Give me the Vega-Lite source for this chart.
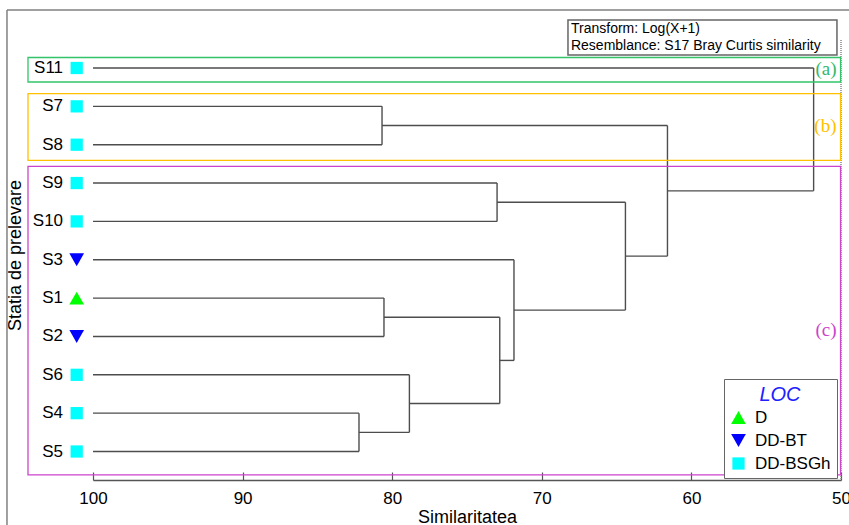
{
  "$schema": "https://vega.github.io/schema/vega-lite/v6.json",
  "width": 748,
  "height": 480,
  "autosize": {"type": "none"},
  "padding": {"left": 93, "top": 0, "right": 8, "bottom": 45},
  "background": "white",
  "config": {"view": {"stroke": null}, "font": "Liberation Sans"},
  "datasets": {
    "segs": [
      {"x": 100, "x2": 51.83, "y": 0, "y2": 0},
      {"x": 100, "x2": 80.68, "y": 1, "y2": 1},
      {"x": 100, "x2": 80.68, "y": 2, "y2": 2},
      {"x": 100, "x2": 72.99, "y": 3, "y2": 3},
      {"x": 100, "x2": 72.99, "y": 4, "y2": 4},
      {"x": 100, "x2": 71.86, "y": 5, "y2": 5},
      {"x": 100, "x2": 80.55, "y": 6, "y2": 6},
      {"x": 100, "x2": 80.55, "y": 7, "y2": 7},
      {"x": 100, "x2": 78.85, "y": 8, "y2": 8},
      {"x": 100, "x2": 82.22, "y": 9, "y2": 9},
      {"x": 100, "x2": 82.22, "y": 10, "y2": 10},
      {"x": 80.68, "x2": 61.6, "y": 1.5, "y2": 1.5},
      {"x": 72.99, "x2": 64.41, "y": 3.5, "y2": 3.5},
      {"x": 80.55, "x2": 72.81, "y": 6.5, "y2": 6.5},
      {"x": 82.22, "x2": 78.85, "y": 9.5, "y2": 9.5},
      {"x": 78.85, "x2": 72.81, "y": 8.75, "y2": 8.75},
      {"x": 72.81, "x2": 71.86, "y": 7.625, "y2": 7.625},
      {"x": 71.86, "x2": 64.41, "y": 6.3125, "y2": 6.3125},
      {"x": 64.41, "x2": 61.6, "y": 4.906, "y2": 4.906},
      {"x": 61.6, "x2": 51.83, "y": 3.203, "y2": 3.203},
      {"x": 80.68, "x2": 80.68, "y": 1, "y2": 2},
      {"x": 72.99, "x2": 72.99, "y": 3, "y2": 4},
      {"x": 80.55, "x2": 80.55, "y": 6, "y2": 7},
      {"x": 82.22, "x2": 82.22, "y": 9, "y2": 10},
      {"x": 78.85, "x2": 78.85, "y": 8, "y2": 9.5},
      {"x": 72.81, "x2": 72.81, "y": 6.5, "y2": 8.75},
      {"x": 71.86, "x2": 71.86, "y": 5, "y2": 7.625},
      {"x": 64.41, "x2": 64.41, "y": 3.5, "y2": 6.3125},
      {"x": 61.6, "x2": 61.6, "y": 1.5, "y2": 4.906},
      {"x": 51.83, "x2": 51.83, "y": 0, "y2": 3.203}
    ],
    "leaves": [
      {"name": "S11", "pos": 0, "LOC": "DD-BSGh"},
      {"name": "S7", "pos": 1, "LOC": "DD-BSGh"},
      {"name": "S8", "pos": 2, "LOC": "DD-BSGh"},
      {"name": "S9", "pos": 3, "LOC": "DD-BSGh"},
      {"name": "S10", "pos": 4, "LOC": "DD-BSGh"},
      {"name": "S3", "pos": 5, "LOC": "DD-BT"},
      {"name": "S1", "pos": 6, "LOC": "D"},
      {"name": "S2", "pos": 7, "LOC": "DD-BT"},
      {"name": "S6", "pos": 8, "LOC": "DD-BSGh"},
      {"name": "S4", "pos": 9, "LOC": "DD-BSGh"},
      {"name": "S5", "pos": 10, "LOC": "DD-BSGh"}
    ],
    "clusters": [
      {"c": "(a)", "y1": -0.274, "y2": 0.365, "ly": 0.026},
      {"c": "(b)", "y1": 0.67, "y2": 2.407, "ly": 1.512},
      {"c": "(c)", "y1": 2.563, "y2": 10.61, "ly": 6.83}
    ],
    "one": [{}]
  },
  "layer": [
    {
      "data": {"name": "segs"},
      "mark": {"type": "rule", "color": "#4d4d4d", "strokeWidth": 1.4, "clip": false},
      "encoding": {
        "x": {
          "field": "x", "type": "quantitative",
          "scale": {"domain": [50, 100], "reverse": true, "nice": false, "zero": false},
          "axis": {
            "values": [100, 90, 80, 70, 60, 50], "format": "d", "grid": false,
            "labelFont": "Liberation Sans", "labelFontSize": 17, "labelColor": "black", "labelFlush": false,
            "tickSize": -8, "labelPadding": 18, "tickColor": "#555", "tickWidth": 1.2, "domainColor": "#555", "domainWidth": 1.5,
            "title": "Similaritatea", "titleFont": "Liberation Sans", "titleFontSize": 18, "titleFontWeight": "normal",
            "titleColor": "black", "titleY": 42, "titleBaseline": "alphabetic"
          }
        },
        "x2": {"field": "x2"},
        "y": {
          "field": "y", "type": "quantitative",
          "scale": {"domain": [-1.773, 10.743], "reverse": true, "nice": false, "zero": false},
          "axis": {
            "domain": false, "ticks": false, "labels": false, "grid": false,
            "title": "Statia de prelevare", "titleFont": "Liberation Sans", "titleFontSize": 18,
            "titleFontWeight": "normal", "titleColor": "black", "titleX": -78, "titleY": 255,
            "titleAngle": 270, "titleAlign": "center", "titleBaseline": "middle"
          }
        },
        "y2": {"field": "y2"}
      }
    },
    {
      "data": {"name": "one"},
      "mark": {"type": "rule", "color": "#808080", "strokeWidth": 1.5, "clip": false},
      "encoding": {
        "x": {"datum": 105.75, "type": "quantitative"},
        "y": {"datum": -1.512, "type": "quantitative"},
        "y2": {"datum": 12}
      }
    },
    {
      "data": {"name": "one"},
      "mark": {"type": "rule", "color": "#808080", "strokeWidth": 1.5, "clip": false},
      "encoding": {
        "x": {"datum": 105.75, "type": "quantitative"},
        "x2": {"datum": 48},
        "y": {"datum": -1.512, "type": "quantitative"}
      }
    },
    {
      "data": {"name": "one"},
      "mark": {"type": "rule", "color": "#888", "strokeWidth": 1.5, "strokeDash": [1, 1], "clip": false},
      "encoding": {
        "x": {"datum": 50, "type": "quantitative"},
        "y": {"datum": -0.73, "type": "quantitative"},
        "y2": {"datum": 10.743}
      }
    },
    {
      "data": {"name": "clusters"},
      "mark": {"type": "rect", "filled": false, "strokeWidth": 1.3, "clip": false},
      "encoding": {
        "x": {"datum": 104.345, "type": "quantitative"},
        "x2": {"datum": 50.03},
        "y": {"field": "y1", "type": "quantitative"},
        "y2": {"field": "y2"},
        "stroke": {"field": "c", "type": "nominal", "scale": {"domain": ["(a)", "(b)", "(c)"], "range": ["#33c46a", "#ffc000", "#cc44cc"]}, "legend": null}
      }
    },
    {
      "data": {"name": "clusters"},
      "mark": {"type": "text", "font": "Liberation Serif", "fontSize": 19, "align": "right", "baseline": "middle", "clip": false},
      "encoding": {
        "x": {"datum": 50.3, "type": "quantitative"},
        "y": {"field": "ly", "type": "quantitative"},
        "text": {"field": "c"},
        "fill": {"field": "c", "type": "nominal", "scale": {"domain": ["(a)", "(b)", "(c)"], "range": ["#33b86a", "#ffc000", "#cc44cc"]}, "legend": null}
      }
    },
    {
      "data": {"name": "leaves"},
      "mark": {"type": "text", "font": "Liberation Sans", "fontSize": 17, "align": "right", "baseline": "middle", "color": "black", "clip": false},
      "encoding": {
        "x": {"datum": 102.0, "type": "quantitative"},
        "y": {"field": "pos", "type": "quantitative"},
        "text": {"field": "name"}
      }
    },
    {
      "data": {"name": "leaves"},
      "mark": {"type": "point", "filled": true, "opacity": 1, "size": 150, "strokeWidth": 0, "clip": false},
      "encoding": {
        "x": {"datum": 101.09, "type": "quantitative"},
        "y": {"field": "pos", "type": "quantitative"},
        "color": {
          "field": "LOC", "type": "nominal",
          "scale": {"domain": ["D", "DD-BT", "DD-BSGh"], "range": ["#00ff00", "#0000ff", "#00ffff"]},
          "legend": {
            "title": "LOC", "orient": "none", "legendX": 631, "legendY": 379,
            "strokeColor": "#666", "fillColor": "white", "padding": 6,
            "titleFont": "Liberation Sans", "titleFontStyle": "italic", "titleFontWeight": "normal",
            "titleFontSize": 20, "titleColor": "#2020ff", "titleAnchor": "middle", "titlePadding": 4,
            "labelFont": "Liberation Sans", "labelFontSize": 17, "labelColor": "black", "labelOffset": 8,
            "symbolSize": 150, "symbolStrokeWidth": 0, "rowPadding": 5
          }
        },
        "shape": {
          "field": "LOC", "type": "nominal",
          "scale": {"domain": ["D", "DD-BT", "DD-BSGh"], "range": ["M-1.2,1.05L0,-1.05L1.2,1.05Z", "M-1.2,-1.05L1.2,-1.05L0,1.05Z", "square"]},
          "legend": {"title": "LOC"}
        }
      }
    },
    {
      "data": {"name": "one"},
      "mark": {"type": "rect", "filled": false, "stroke": "#666", "strokeWidth": 1.5, "clip": false},
      "encoding": {
        "x": {"datum": 68.25, "type": "quantitative"},
        "x2": {"datum": 50.27},
        "y": {"datum": -1.252, "type": "quantitative"},
        "y2": {"datum": -0.339}
      }
    },
    {
      "data": {"name": "one"},
      "mark": {"type": "text", "font": "Liberation Sans", "fontSize": 14, "align": "left", "baseline": "top", "lineHeight": 17, "color": "black", "clip": false,
               "text": ["Transform: Log(X+1)", "Resemblance: S17 Bray Curtis similarity"]},
      "encoding": {
        "x": {"datum": 68.05, "type": "quantitative"},
        "y": {"datum": -1.192, "type": "quantitative"}
      }
    }
  ]
}
